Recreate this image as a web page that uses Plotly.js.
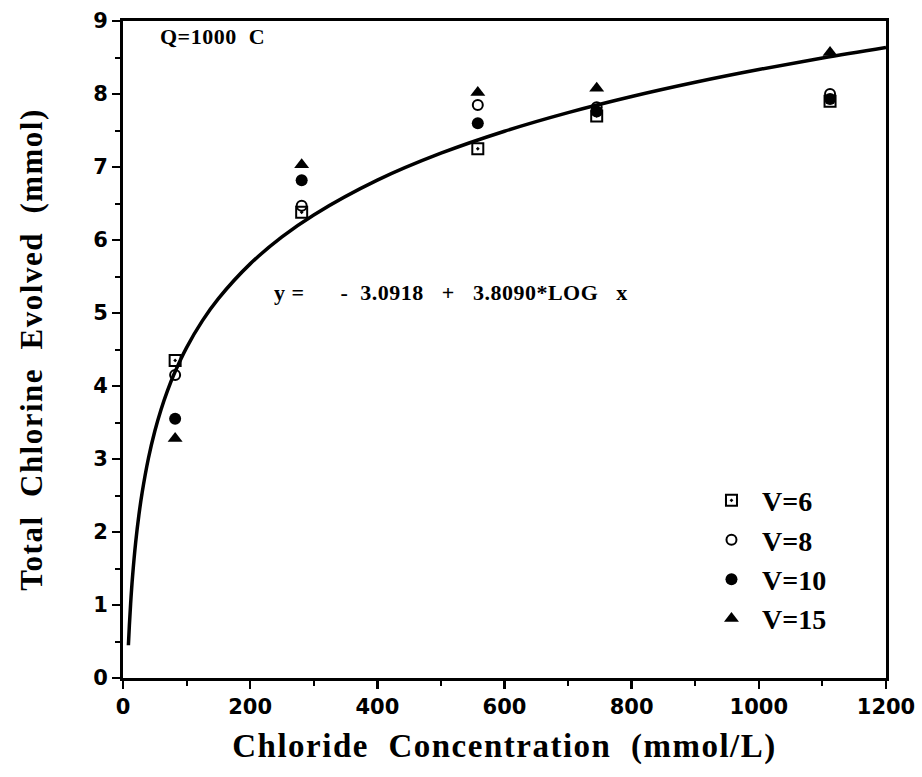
<!DOCTYPE html>
<html>
<head>
<meta charset="utf-8">
<script src="https://cdn.plot.ly/plotly-3.0.1.min.js"></script>
<style>
html,body{margin:0;padding:0;background:#fff;}
#chart{width:922px;height:777px;}
.xtitle,.ytitle{letter-spacing:1.5px;}
.annotation-text{letter-spacing:0.5px;}
</style>
</head>
<body>
<div id="chart"></div>
<script>
// Chloride concentration (mmol/L)
const conc = [82, 281, 558, 745, 1112];
// Total chlorine evolved (mmol) for each cell voltage
const v6  = [4.35, 6.38, 7.25, 7.70, 7.90];
const v8  = [4.15, 6.47, 7.85, 7.82, 8.00];
const v10 = [3.55, 6.82, 7.60, 7.76, 7.93];
const v15 = [3.28, 7.03, 8.02, 8.08, 8.57];
// Regression stated on the chart: y = a + b*LOG x
const fitA = -3.0918;
const fitB = 3.8090;
const fitX = [8.5, 10, 12, 15, 20, 25, 30, 40, 50, 60, 70, 80, 100, 125, 150, 200, 250, 300, 400, 500, 600, 700, 800, 900, 1000, 1100, 1200];
const fitY = fitX.map(x => fitA + fitB * Math.log10(x));

const serif = '"Liberation Serif", "Times New Roman", serif';
const sans = '"DejaVu Sans", Arial, sans-serif';

const traces = [
  {x: fitX, y: fitY, mode: 'lines', line: {color: '#000', width: 3.5, shape: 'spline'}, showlegend: false, hoverinfo: 'skip'},
  {x: conc, y: v6, mode: 'markers', name: 'V=6', marker: {symbol: 'square-open-dot', size: 11, color: '#000', line: {width: 2, color: '#000'}}},
  {x: conc, y: v8, mode: 'markers', name: 'V=8', marker: {symbol: 'circle-open', size: 10, color: '#000', line: {width: 2, color: '#000'}}},
  {x: conc, y: v10, mode: 'markers', name: 'V=10', marker: {symbol: 'circle', size: 12, color: '#000'}},
  {x: conc, y: v15, mode: 'markers', name: 'V=15', marker: {symbol: 'triangle-up', size: 13, color: '#000'}}
];

const layout = {
  width: 922, height: 777,
  margin: {l: 123, r: 36, t: 21, b: 99},
  paper_bgcolor: '#fff', plot_bgcolor: '#fff',
  showlegend: true,
  legend: {x: 0.7575, y: 0.308, xanchor: 'left', yanchor: 'top', bgcolor: 'rgba(0,0,0,0)',
           font: {family: serif, size: 28, color: '#000', weight: 'bold'}, tracegroupgap: 0, itemwidth: 51},
  xaxis: {
    range: [0, 1200], tickvals: [0, 200, 400, 600, 800, 1000, 1200],
    ticks: 'outside', ticklen: 8, tickwidth: 2.5, tickcolor: '#000',
    minor: {dtick: 100, ticks: 'outside', ticklen: 5, tickwidth: 2, tickcolor: '#000'},
    showline: true, linewidth: 3, linecolor: '#000', mirror: true,
    showgrid: false, zeroline: false,
    tickfont: {family: sans, size: 21, color: '#000', weight: 'bold'},
    title: {text: 'Chloride  Concentration  (mmol/L)', font: {family: serif, size: 33, color: '#000', weight: 'bold'}, standoff: 16}
  },
  yaxis: {
    range: [0, 9], dtick: 1,
    ticks: 'outside', ticklen: 8, tickwidth: 2.5, tickcolor: '#000',
    minor: {dtick: 0.5, ticks: 'outside', ticklen: 5, tickwidth: 2, tickcolor: '#000'},
    showline: true, linewidth: 3, linecolor: '#000', mirror: true,
    showgrid: false, zeroline: false,
    tickfont: {family: sans, size: 21, color: '#000', weight: 'bold'},
    title: {text: 'Total  Chlorine  Evolved  (mmol)', font: {family: serif, size: 31, color: '#000', weight: 'bold'}, standoff: 42}
  },
  annotations: [
    {xref: 'paper', yref: 'paper', x: 0.046, y: 0.998, xanchor: 'left', yanchor: 'top', showarrow: false,
     text: 'Q=1000&nbsp;&nbsp;C', font: {family: serif, size: 22, color: '#000', weight: 'bold'}},
    {xref: 'paper', yref: 'paper', x: 0.195, y: 0.586, xanchor: 'left', yanchor: 'middle', showarrow: false,
     text: 'y =&nbsp;&nbsp;&nbsp;&nbsp;&nbsp;&nbsp;-&nbsp;&nbsp;3.0918&nbsp;&nbsp;&nbsp;+&nbsp;&nbsp;&nbsp;3.8090*LOG&nbsp;&nbsp;&nbsp;x',
     font: {family: serif, size: 22, color: '#000', weight: 'bold'}}
  ]
};

Plotly.newPlot('chart', traces, layout, {displayModeBar: false, staticPlot: true});
</script>
</body>
</html>
